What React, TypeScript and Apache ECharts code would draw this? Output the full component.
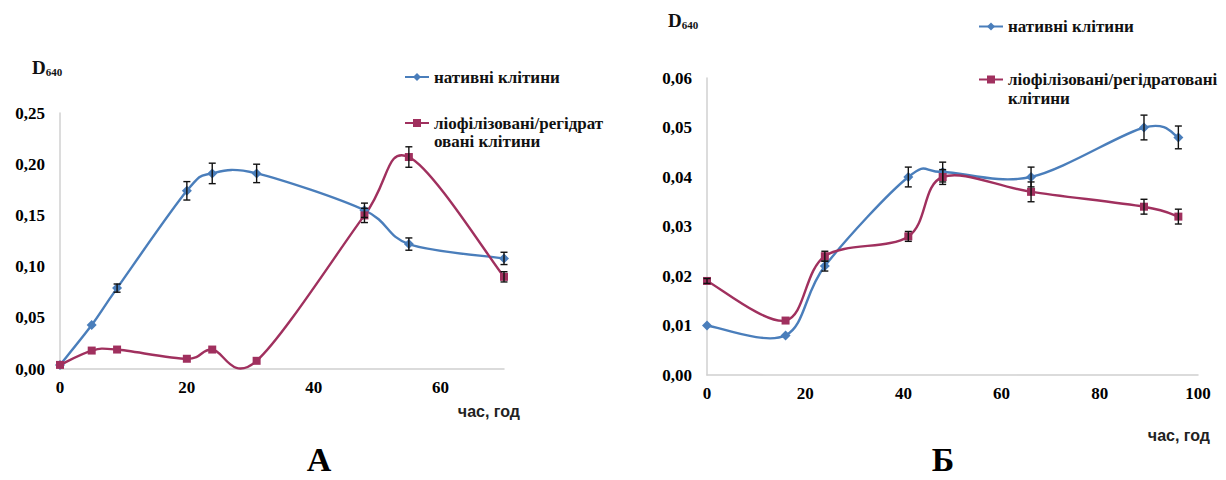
import React, { useEffect, useRef } from "react";
import * as echarts from "echarts";

// Chart A
const timeA = [0, 5, 9, 20, 24, 31, 48, 55, 70];
const nativeA = [0.004, 0.043, 0.079, 0.174, 0.191, 0.191, 0.155, 0.122, 0.108];
const nativeAErr = [0, 0, 0.004, 0.009, 0.01, 0.009, 0.007, 0.006, 0.006];
const lyoA = [0.004, 0.018, 0.019, 0.010, 0.019, 0.008, 0.150, 0.207, 0.090];
const lyoAErr = [0, 0, 0, 0, 0, 0, 0.007, 0.01, 0.005];

// Chart Б
const timeB = [0, 16, 24, 41, 48, 66, 89, 96];
const nativeB = [0.010, 0.008, 0.022, 0.040, 0.041, 0.040, 0.050, 0.048];
const nativeBErr = [0, 0, 0.001, 0.002, 0.002, 0.002, 0.0025, 0.0023];
const lyoB = [0.019, 0.011, 0.024, 0.028, 0.040, 0.037, 0.034, 0.032];
const lyoBErr = [0.0005, 0, 0.001, 0.001, 0.0015, 0.002, 0.0015, 0.0015];

const NAME_NATIVE = "нативні клітини";
const NAME_LYO = "ліофілізовані/регідратовані клітини";
const LEGEND_LYO_A = ["ліофілізовані/регідрат", "овані клітини"];
const LEGEND_LYO_B = ["ліофілізовані/регідратовані", "клітини"];
const AXIS_X_TITLE = "час, год";
const Y_TITLE_MAIN = "D";
const Y_TITLE_SUB = "640";
const PANEL_A = "А";
const PANEL_B = "Б";

const BLUE = "#4A7EBB";
const RED = "#A0305E";
const SERIF = "Liberation Serif";
const SANS = "Liberation Sans";

const pairs = (xs: number[], ys: number[]) => xs.map((x, i) => [x, ys[i]]);
const triples = (xs: number[], ys: number[], es: number[]) => xs.map((x, i) => [x, ys[i], es[i]]);

const fmtY = (v: number) => v.toFixed(2).replace(".", ",");

function errorSeries(data: number[][], idx: number) {
  return {
    type: "custom",
    xAxisIndex: idx,
    yAxisIndex: idx,
    z: 5,
    silent: true,
    encode: { x: 0, y: 1 },
    data,
    renderItem: (params: any, api: any) => {
      const x = api.value(0);
      const y = api.value(1);
      const e = api.value(2);
      if (!e || e <= 0) return null;
      const top = api.coord([x, y + e]);
      const bot = api.coord([x, y - e]);
      const w = 3.5;
      const st = { stroke: "#111", lineWidth: 1.4 };
      return {
        type: "group",
        children: [
          { type: "line", shape: { x1: top[0], y1: top[1], x2: bot[0], y2: bot[1] }, style: st },
          { type: "line", shape: { x1: top[0] - w, y1: top[1], x2: top[0] + w, y2: top[1] }, style: st },
          { type: "line", shape: { x1: bot[0] - w, y1: bot[1], x2: bot[0] + w, y2: bot[1] }, style: st },
        ],
      };
    },
  };
}

// Smoothed curve (spreadsheet-style Catmull-Rom), drawn segment by segment through the axes
function curveSeries(xs: number[], ys: number[], idx: number, color: string) {
  return {
    type: "custom",
    xAxisIndex: idx,
    yAxisIndex: idx,
    z: 2,
    silent: true,
    encode: { x: 0, y: 1 },
    data: pairs(xs, ys),
    renderItem: (params: any, api: any) => {
      const i = params.dataIndex;
      const n = xs.length;
      if (i >= n - 1) return null;
      const p = (j: number) => {
        const k = Math.max(0, Math.min(n - 1, j));
        return api.coord([xs[k], ys[k]]);
      };
      const p0 = p(i - 1);
      const p1 = p(i);
      const p2 = p(i + 1);
      const p3 = p(i + 2);
      const t = 1 / 6;
      return {
        type: "bezierCurve",
        shape: {
          x1: p1[0],
          y1: p1[1],
          cpx1: p1[0] + (p2[0] - p0[0]) * t,
          cpy1: p1[1] + (p2[1] - p0[1]) * t,
          cpx2: p2[0] - (p3[0] - p1[0]) * t,
          cpy2: p2[1] - (p3[1] - p1[1]) * t,
          x2: p2[0],
          y2: p2[1],
        },
        style: { stroke: color, lineWidth: 2.4, fill: "none" },
      };
    },
  };
}

function markerSeries(name: string, data: number[][], idx: number, color: string, symbol: string, size: number) {
  return {
    type: "line",
    name,
    xAxisIndex: idx,
    yAxisIndex: idx,
    data,
    symbol,
    symbolSize: size,
    showAllSymbol: true,
    lineStyle: { color, width: 2.4, opacity: 0 },
    itemStyle: { color },
    z: 3,
  };
}

const axisLabelStyle = {
  color: "#000",
  fontFamily: SERIF,
  fontWeight: "bold" as const,
  fontSize: 17,
};

const titleRich = {
  d: { fontFamily: SERIF, fontWeight: "bold", fontSize: 19, fill: "#111", verticalAlign: "bottom" },
  s: { fontFamily: SERIF, fontWeight: "bold", fontSize: 11, fill: "#111", padding: [8, 0, 0, 0], verticalAlign: "bottom" },
};

function legendRich(lh: number) {
  const base = { fontFamily: SERIF, fontWeight: "bold", fontSize: 17, color: "#111", lineHeight: lh };
  return { e: { ...base }, t: { ...base } };
}

export default function App() {
  const ref = useRef<HTMLDivElement>(null);
  useEffect(() => {
    if (!ref.current) return;
    const chart = echarts.init(ref.current, undefined, { renderer: "svg" });
    const legendCommon = (lh: number) => ({
      orient: "vertical",
      padding: 0,
      itemWidth: 24,
      itemHeight: 10,
      selectedMode: false,
      lineStyle: { opacity: 1, width: 2 },
      textStyle: {
        fontFamily: SERIF,
        fontWeight: "bold",
        fontSize: 17,
        color: "#111",
        lineHeight: lh,
        rich: legendRich(lh),
      },
    });
    const option: any = {
      animation: false,
      backgroundColor: "#fff",
      textStyle: { fontFamily: SERIF, fontWeight: "bold" },
      grid: [
        { left: 60, top: 113, width: 444, height: 256 },
        { left: 707, top: 78, width: 491, height: 297 },
      ],
      xAxis: [
        {
          gridIndex: 0,
          type: "value",
          min: 0,
          max: 70,
          interval: 20,
          axisLine: { show: true, lineStyle: { color: "#d0d0d0", width: 1.5 } },
          axisTick: { show: false },
          splitLine: { show: false },
          axisLabel: {
            ...axisLabelStyle,
            margin: 10,
            showMaxLabel: false,
            formatter: (v: number) => (v % 20 === 0 ? String(v) : ""),
          },
        },
        {
          gridIndex: 1,
          type: "value",
          min: 0,
          max: 100,
          interval: 20,
          axisLine: { show: true, lineStyle: { color: "#d0d0d0", width: 1.5 } },
          axisTick: { show: false },
          splitLine: { show: false },
          axisLabel: { ...axisLabelStyle, margin: 10 },
        },
      ],
      yAxis: [
        {
          gridIndex: 0,
          type: "value",
          min: 0,
          max: 0.25,
          interval: 0.05,
          axisLine: { show: true, lineStyle: { color: "#d0d0d0", width: 1.5 } },
          axisTick: { show: false },
          splitLine: { show: false },
          axisLabel: { ...axisLabelStyle, margin: 15, formatter: fmtY },
        },
        {
          gridIndex: 1,
          type: "value",
          min: 0,
          max: 0.06,
          interval: 0.01,
          axisLine: { show: true, lineStyle: { color: "#d0d0d0", width: 1.5 } },
          axisTick: { show: false },
          splitLine: { show: false },
          axisLabel: { ...axisLabelStyle, margin: 15, formatter: fmtY },
        },
      ],
      legend: [
        {
          ...legendCommon(18),
          left: 404,
          top: 68,
          itemGap: 10,
          formatter: (n: string) =>
            n === NAME_LYO ? `{e| }\n{t|${LEGEND_LYO_A[0]}}\n{t|${LEGEND_LYO_A[1]}}` : `{t|${n}}`,
          data: [NAME_NATIVE, NAME_LYO],
        },
        {
          ...legendCommon(19),
          left: 978,
          top: 17,
          itemGap: 15,
          formatter: (n: string) =>
            n === NAME_LYO ? `{e| }\n{t|${LEGEND_LYO_B[0]}}\n{t|${LEGEND_LYO_B[1]}}` : `{t|${n}}`,
          data: [NAME_NATIVE, NAME_LYO],
        },
      ],
      graphic: [
        {
          type: "text",
          left: 32,
          top: 58,
          style: { text: `{d|${Y_TITLE_MAIN}}{s|${Y_TITLE_SUB}}`, rich: titleRich },
        },
        {
          type: "text",
          left: 668,
          top: 11,
          style: { text: `{d|${Y_TITLE_MAIN}}{s|${Y_TITLE_SUB}}`, rich: titleRich },
        },
        {
          type: "text",
          x: 520,
          y: 411,
          style: {
            text: AXIS_X_TITLE,
            fontFamily: SANS,
            fontWeight: "bold",
            fontSize: 16,
            fill: "#222",
            align: "right",
            verticalAlign: "middle",
          },
        },
        {
          type: "text",
          x: 1210,
          y: 435,
          style: {
            text: AXIS_X_TITLE,
            fontFamily: SANS,
            fontWeight: "bold",
            fontSize: 16,
            fill: "#222",
            align: "right",
            verticalAlign: "middle",
          },
        },
        {
          type: "text",
          x: 319,
          y: 476,
          style: {
            text: PANEL_A,
            fontFamily: SERIF,
            fontWeight: "bold",
            fontSize: 34,
            fill: "#000",
            align: "center",
            verticalAlign: "bottom",
          },
        },
        {
          type: "text",
          x: 943,
          y: 476,
          style: {
            text: PANEL_B,
            fontFamily: SERIF,
            fontWeight: "bold",
            fontSize: 34,
            fill: "#000",
            align: "center",
            verticalAlign: "bottom",
          },
        },
      ],
      series: [
        curveSeries(timeA, nativeA, 0, BLUE),
        curveSeries(timeA, lyoA, 0, RED),
        curveSeries(timeB, nativeB, 1, BLUE),
        curveSeries(timeB, lyoB, 1, RED),
        markerSeries(NAME_NATIVE, pairs(timeA, nativeA), 0, BLUE, "diamond", 10),
        markerSeries(NAME_LYO, pairs(timeA, lyoA), 0, RED, "rect", 8),
        markerSeries(NAME_NATIVE, pairs(timeB, nativeB), 1, BLUE, "diamond", 10),
        markerSeries(NAME_LYO, pairs(timeB, lyoB), 1, RED, "rect", 8),
        errorSeries(triples(timeA, nativeA, nativeAErr), 0),
        errorSeries(triples(timeA, lyoA, lyoAErr), 0),
        errorSeries(triples(timeB, nativeB, nativeBErr), 1),
        errorSeries(triples(timeB, lyoB, lyoBErr), 1),
      ],
    };
    chart.setOption(option);
    return () => chart.dispose();
  }, []);
  return (
    <div
      ref={ref}
      style={{ position: "absolute", left: 0, top: 0, width: 1226, height: 480, background: "#fff" }}
    />
  );
}
